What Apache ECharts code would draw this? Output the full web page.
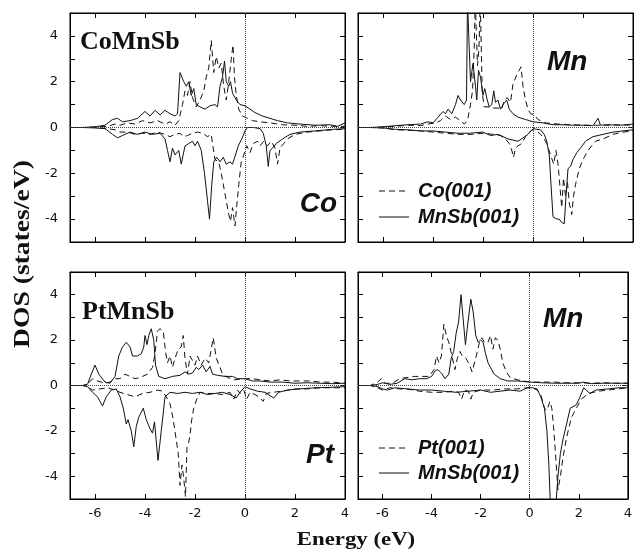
<!DOCTYPE html>
<html>
<head>
<meta charset="utf-8">
<title>DOS CoMnSb / PtMnSb</title>
<script src="https://cdn.jsdelivr.net/npm/echarts@6/dist/echarts.min.js"></script>
<style>
  html, body { margin: 0; padding: 0; background: #fff; }
  #chart { width: 635px; height: 552px; }
</style>
</head>
<body>
<div id="chart"></div>
<script>
// tick positions
var xTicks = [-6, -4, -2, 0, 2, 4];
var yTicks = [-4, -3, -2, -1, 0, 1, 2, 3, 4];
var yLabels = [-4, -2, 0, 2, 4];

// ---- CoMnSb, Co projected (top left) ----
var coUpDash = [[-7,0],[-6.5,0],[-6,0.02],[-5.5,0.05],[-5.2,0.15],[-5,0.1],[-4.7,0.2],[-4.4,0.15],[-4.1,0.3],[-3.8,0.2],[-3.5,0.3],[-3.2,0.15],[-3.0,0.25],[-2.8,0.1],[-2.65,0.3],[-2.5,1.0],[-2.4,1.6],[-2.3,1.4],[-2.2,2.0],[-2.1,1.3],[-1.95,0.9],[-1.8,1.2],[-1.65,1.6],[-1.55,2.2],[-1.45,2.6],[-1.35,3.8],[-1.25,2.4],[-1.15,3.1],[-1.05,2.6],[-0.95,2.8],[-0.85,1.8],[-0.75,1.2],[-0.65,2.0],[-0.55,3.0],[-0.48,3.6],[-0.42,2.2],[-0.35,1.4],[-0.25,0.8],[-0.1,0.5],[0.1,0.4],[0.3,0.3],[0.6,0.25],[1.0,0.2],[1.5,0.12],[2.0,0.1],[2.5,0.05],[3,0.08],[3.5,0.05],[4,0.05]];
var coUpSolid = [[-7,0],[-6.5,0],[-6,0.03],[-5.6,0.1],[-5.3,0.35],[-5.1,0.4],[-4.9,0.25],[-4.6,0.3],[-4.3,0.4],[-4.0,0.7],[-3.8,0.5],[-3.6,0.75],[-3.4,0.55],[-3.2,0.75],[-3.0,0.6],[-2.8,0.5],[-2.7,0.6],[-2.6,2.4],[-2.45,2.0],[-2.35,1.8],[-2.25,2.0],[-2.15,1.4],[-2.05,1.7],[-1.95,1.0],[-1.8,0.9],[-1.6,0.8],[-1.4,0.95],[-1.2,1.0],[-1.1,0.9],[-1.0,1.8],[-0.9,2.2],[-0.82,2.9],[-0.75,2.0],[-0.65,1.8],[-0.58,2.0],[-0.5,1.5],[-0.35,1.2],[-0.2,1.0],[0,0.95],[0.2,0.8],[0.4,0.65],[0.7,0.5],[1.0,0.4],[1.3,0.3],[1.7,0.2],[2.2,0.15],[2.8,0.1],[3.4,0.12],[3.7,0.05],[4,0.2]];
var coDnSolid = [[-7,0],[-6.5,0],[-6,-0.02],[-5.6,-0.05],[-5.3,-0.3],[-5.1,-0.45],[-4.9,-0.35],[-4.6,-0.2],[-4.3,-0.3],[-4.0,-0.2],[-3.7,-0.3],[-3.4,-0.25],[-3.2,-0.5],[-3.1,-1.0],[-3.0,-1.5],[-2.9,-0.9],[-2.8,-1.2],[-2.65,-1.0],[-2.55,-1.6],[-2.4,-0.8],[-2.25,-0.7],[-2.1,-0.6],[-2.0,-0.8],[-1.9,-0.6],[-1.75,-1.0],[-1.62,-2.0],[-1.5,-3.2],[-1.42,-4.0],[-1.33,-2.5],[-1.25,-1.5],[-1.13,-1.3],[-1.0,-1.5],[-0.87,-1.3],[-0.75,-1.6],[-0.6,-1.5],[-0.5,-1.6],[-0.38,-1.2],[-0.27,-0.8],[-0.13,-0.5],[0,-0.15],[0.1,0],[0.35,0],[0.6,-0.05],[0.73,-0.25],[0.85,-0.8],[0.93,-1.7],[1.0,-1.0],[1.1,-0.9],[1.25,-0.7],[1.5,-0.5],[1.8,-0.3],[2.2,-0.2],[2.8,-0.15],[3.5,-0.08],[4,-0.05]];
var coDnDash = [[-7,0],[-6.5,0],[-6,0],[-5.5,-0.05],[-5.2,-0.1],[-5.0,-0.2],[-4.7,-0.2],[-4.4,-0.3],[-4.1,-0.25],[-3.8,-0.3],[-3.5,-0.2],[-3.2,-0.3],[-3.0,-0.4],[-2.8,-0.3],[-2.6,-0.25],[-2.45,-0.4],[-2.3,-0.35],[-2.1,-0.25],[-1.9,-0.2],[-1.7,-0.25],[-1.5,-0.4],[-1.35,-0.3],[-1.3,-0.7],[-1.2,-1.4],[-1.05,-1.5],[-0.95,-2.0],[-0.85,-2.6],[-0.75,-3.2],[-0.65,-3.8],[-0.58,-4.1],[-0.5,-3.5],[-0.45,-3.9],[-0.4,-4.3],[-0.33,-3.4],[-0.25,-2.5],[-0.15,-1.5],[-0.05,-1.2],[0.07,-0.8],[0.2,-1.1],[0.33,-0.7],[0.5,-0.6],[0.6,-0.8],[0.75,-0.6],[0.9,-0.8],[1.05,-0.6],[1.2,-0.9],[1.3,-1.6],[1.4,-0.9],[1.55,-0.7],[1.7,-0.5],[2.0,-0.3],[2.5,-0.2],[3.0,-0.15],[3.5,-0.1],[4,-0.08]];

// ---- CoMnSb, Mn projected (top right) ----
var mnUpDash = [[-7,0],[-6.5,0],[-6,0.02],[-5.5,0.05],[-5,0.1],[-4.5,0.08],[-4.2,0.15],[-3.9,0.2],[-3.7,0.3],[-3.5,0.5],[-3.3,0.35],[-3.1,0.45],[-2.9,0.3],[-2.75,0.15],[-2.62,0.3],[-2.5,1.0],[-2.42,1.6],[-2.35,3.5],[-2.31,5.5],[-2.26,5.5],[-2.22,2.7],[-2.16,3.5],[-2.11,5.5],[-2.07,5.5],[-2.03,1.5],[-1.95,0.9],[-1.8,0.9],[-1.6,0.85],[-1.4,0.85],[-1.25,0.8],[-1.15,1.2],[-1.03,1.3],[-0.9,1.1],[-0.8,1.9],[-0.65,2.3],[-0.55,2.5],[-0.48,2.65],[-0.4,1.8],[-0.3,1.2],[-0.2,0.8],[-0.1,0.6],[0.05,0.55],[0.2,0.35],[0.5,0.2],[1.0,0.15],[1.5,0.12],[2.0,0.1],[2.5,0.1],[3.0,0.1],[3.5,0.12],[4,0.1]];
var mnUpSolid = [[-7,0],[-6.5,0],[-6,0.03],[-5.5,0.08],[-5,0.12],[-4.5,0.15],[-4.2,0.25],[-4.0,0.2],[-3.8,0.45],[-3.6,0.7],[-3.5,0.6],[-3.4,0.8],[-3.25,0.6],[-3.1,1.0],[-3.0,1.4],[-2.9,1.2],[-2.75,1.0],[-2.66,1.2],[-2.62,5.5],[-2.56,5.5],[-2.5,2.0],[-2.4,2.8],[-2.3,1.8],[-2.25,1.2],[-2.18,2.5],[-2.1,2.2],[-2.0,1.4],[-1.93,1.7],[-1.83,1.2],[-1.75,0.9],[-1.65,1.0],[-1.57,1.6],[-1.5,1.1],[-1.4,1.2],[-1.3,0.8],[-1.2,1.0],[-1.05,1.2],[-0.95,0.8],[-0.8,0.6],[-0.6,0.45],[-0.3,0.35],[0,0.25],[0.4,0.2],[0.8,0.12],[1.2,0.12],[1.6,0.1],[2.0,0.1],[2.4,0.08],[2.6,0.4],[2.7,0.1],[3.0,0.12],[3.5,0.1],[4,0.15]];
var mnDnSolid = [[-7,0],[-6.5,0],[-6,-0.02],[-5.5,-0.08],[-5,-0.1],[-4.5,-0.15],[-4,-0.15],[-3.5,-0.2],[-3,-0.25],[-2.5,-0.25],[-2,-0.2],[-1.7,-0.35],[-1.4,-0.3],[-1.2,-0.4],[-1.0,-0.5],[-0.8,-0.55],[-0.6,-0.6],[-0.4,-0.45],[-0.2,-0.3],[0,-0.05],[0.15,-0.08],[0.3,-0.1],[0.45,-0.3],[0.55,-0.6],[0.65,-1.2],[0.72,-2.5],[0.8,-3.9],[0.95,-4.0],[1.05,-4.0],[1.15,-4.15],[1.25,-4.2],[1.32,-3.0],[1.4,-1.8],[1.5,-1.7],[1.6,-1.4],[1.75,-1.1],[1.9,-0.9],[2.1,-0.6],[2.4,-0.4],[2.8,-0.3],[3.2,-0.2],[3.6,-0.15],[4,-0.1]];
var mnDnDash = [[-7,0],[-6.5,0],[-6,-0.02],[-5.5,-0.1],[-5,-0.12],[-4.5,-0.15],[-4,-0.2],[-3.5,-0.25],[-3,-0.3],[-2.5,-0.3],[-2,-0.25],[-1.6,-0.3],[-1.3,-0.35],[-1.1,-0.5],[-0.95,-0.7],[-0.85,-1.0],[-0.78,-1.3],[-0.7,-0.9],[-0.6,-0.8],[-0.45,-0.7],[-0.3,-0.4],[-0.1,-0.15],[0,-0.1],[0.15,-0.15],[0.3,-0.3],[0.45,-0.5],[0.55,-0.7],[0.7,-1.2],[0.83,-1.6],[0.92,-1.0],[1.0,-1.6],[1.08,-2.6],[1.15,-3.5],[1.22,-2.2],[1.3,-3.0],[1.38,-2.4],[1.45,-3.3],[1.55,-3.8],[1.62,-3.0],[1.7,-2.5],[1.85,-1.8],[2.0,-1.4],[2.2,-1.0],[2.5,-0.6],[2.8,-0.5],[3.2,-0.3],[3.6,-0.2],[4,-0.15]];

// ---- PtMnSb, Pt projected (bottom left) ----
var ptUpDash = [[-7,0],[-6.5,0],[-6.3,0.05],[-6.1,0.3],[-5.9,0.2],[-5.6,0.1],[-5.4,0.15],[-5.2,0.3],[-5.0,0.3],[-4.8,0.5],[-4.6,0.4],[-4.4,0.3],[-4.2,0.35],[-3.9,0.5],[-3.7,0.8],[-3.6,1.4],[-3.5,2.4],[-3.4,2.5],[-3.27,2.4],[-3.18,1.5],[-3.1,1.0],[-3.0,1.3],[-2.9,0.8],[-2.8,1.2],[-2.67,1.6],[-2.55,1.7],[-2.47,2.2],[-2.4,1.2],[-2.3,0.5],[-2.2,1.3],[-2.1,1.1],[-2.0,0.9],[-1.9,1.3],[-1.75,0.9],[-1.6,1.2],[-1.45,1.0],[-1.35,1.6],[-1.27,2.1],[-1.15,1.2],[-1.0,0.8],[-0.9,0.5],[-0.7,0.35],[-0.4,0.25],[-0.1,0.3],[0.3,0.3],[0.6,0.25],[1.0,0.2],[1.4,0.25],[1.8,0.2],[2.2,0.2],[2.6,0.2],[3.0,0.15],[3.5,0.15],[4,0.1]];
var ptUpSolid = [[-7,0],[-6.5,0],[-6.3,0.05],[-6.15,0.5],[-6.0,0.9],[-5.85,0.5],[-5.6,0.15],[-5.4,0.1],[-5.2,0.4],[-5.05,1.3],[-4.9,1.7],[-4.75,1.9],[-4.6,1.7],[-4.5,1.3],[-4.3,1.3],[-4.15,1.4],[-4.05,1.7],[-4.0,2.2],[-3.92,1.8],[-3.85,2.2],[-3.75,2.5],[-3.65,2.0],[-3.58,0.9],[-3.45,0.4],[-3.2,0.3],[-2.9,0.4],[-2.6,0.45],[-2.4,0.6],[-2.25,0.5],[-2.1,0.55],[-1.95,0.8],[-1.85,0.7],[-1.7,0.9],[-1.55,0.6],[-1.4,0.85],[-1.3,0.5],[-1.1,0.45],[-0.8,0.4],[-0.5,0.4],[-0.3,0.3],[0,0.3],[0.3,0.2],[0.6,0.2],[1.0,0.15],[1.5,0.15],[2.0,0.1],[2.5,0.12],[3.0,0.1],[3.5,0.08],[4,0.1]];
var ptDnSolid = [[-7,0],[-6.5,0],[-6.3,-0.05],[-6.1,-0.3],[-5.9,-0.5],[-5.7,-0.9],[-5.55,-0.5],[-5.35,-0.2],[-5.15,-0.15],[-5.0,-0.5],[-4.87,-1.0],[-4.75,-1.7],[-4.68,-1.5],[-4.55,-2.0],[-4.45,-2.7],[-4.35,-1.8],[-4.25,-1.4],[-4.07,-1.0],[-3.95,-1.5],[-3.8,-1.9],[-3.7,-2.1],[-3.62,-1.6],[-3.48,-3.3],[-3.35,-2.0],[-3.2,-0.5],[-3.0,-0.3],[-2.7,-0.35],[-2.4,-0.3],[-2.1,-0.35],[-1.8,-0.3],[-1.5,-0.4],[-1.2,-0.35],[-0.9,-0.3],[-0.6,-0.4],[-0.35,-0.55],[-0.2,-0.3],[0,-0.05],[0.2,-0.15],[0.5,-0.25],[0.8,-0.3],[1.0,-0.45],[1.15,-0.55],[1.35,-0.3],[1.7,-0.2],[2.2,-0.15],[2.8,-0.1],[3.4,-0.08],[4,-0.05]];
var ptDnDash = [[-7,0],[-6.5,0],[-6.3,-0.05],[-6.1,-0.2],[-5.8,-0.15],[-5.5,-0.1],[-5.2,-0.2],[-5.0,-0.3],[-4.7,-0.4],[-4.4,-0.5],[-4.1,-0.35],[-3.8,-0.3],[-3.5,-0.2],[-3.3,-0.25],[-3.15,-0.5],[-3.0,-0.8],[-2.87,-1.5],[-2.75,-2.4],[-2.67,-3.0],[-2.6,-4.4],[-2.52,-3.5],[-2.45,-4.1],[-2.38,-4.9],[-2.32,-2.7],[-2.25,-2.5],[-2.2,-2.2],[-2.13,-1.5],[-2.05,-1.0],[-1.93,-0.6],[-1.8,-0.3],[-1.5,-0.35],[-1.2,-0.35],[-0.9,-0.4],[-0.6,-0.3],[-0.45,-0.6],[-0.3,-0.2],[-0.2,-0.35],[-0.05,-0.2],[0.07,-0.6],[0.2,-0.3],[0.4,-0.4],[0.55,-0.5],[0.73,-0.7],[0.85,-0.35],[1.1,-0.3],[1.5,-0.25],[2.0,-0.15],[2.5,-0.15],[3.0,-0.1],[3.5,-0.1],[4,-0.1]];

// ---- PtMnSb, Mn projected (bottom right) ----
var pmUpDash = [[-7,0],[-6.5,0],[-6.2,0.15],[-6.05,0.3],[-5.9,0.1],[-5.6,0.1],[-5.3,0.3],[-5.0,0.35],[-4.7,0.4],[-4.4,0.4],[-4.1,0.4],[-3.9,0.7],[-3.8,1.3],[-3.7,1.0],[-3.6,1.3],[-3.5,2.7],[-3.4,2.2],[-3.3,1.9],[-3.17,1.3],[-3.05,0.7],[-2.95,1.2],[-2.85,1.5],[-2.75,1.3],[-2.6,1.2],[-2.45,0.9],[-2.35,0.6],[-2.2,1.2],[-2.05,1.9],[-1.95,2.1],[-1.85,1.9],[-1.7,1.9],[-1.6,2.2],[-1.5,1.6],[-1.4,2.1],[-1.3,2.0],[-1.2,1.6],[-1.1,1.0],[-0.95,0.6],[-0.8,0.35],[-0.5,0.25],[0,0.15],[0.5,0.15],[1.0,0.15],[1.5,0.12],[2.0,0.12],[2.5,0.1],[3.0,0.12],[3.5,0.1],[4,0.1]];
var pmUpSolid = [[-7,0],[-6.5,0],[-6.2,0.05],[-6.0,0.12],[-5.7,0.05],[-5.4,0.1],[-5.1,0.3],[-4.8,0.25],[-4.5,0.3],[-4.2,0.3],[-4.0,0.4],[-3.85,0.65],[-3.75,0.7],[-3.6,0.55],[-3.45,0.3],[-3.3,0.5],[-3.2,1.2],[-3.1,1.5],[-3.0,2.3],[-2.9,2.8],[-2.8,4.0],[-2.72,3.0],[-2.62,1.8],[-2.55,2.5],[-2.47,3.2],[-2.4,3.8],[-2.3,3.2],[-2.2,2.2],[-2.1,1.9],[-2.0,2.0],[-1.9,1.9],[-1.8,1.4],[-1.7,1.0],[-1.6,0.8],[-1.45,0.5],[-1.2,0.3],[-0.9,0.2],[-0.5,0.2],[0,0.15],[0.5,0.12],[1.0,0.1],[1.5,0.1],[2.0,0.1],[2.2,0.15],[2.5,0.08],[3.0,0.1],[3.5,0.1],[4,0.1]];
var pmDnSolid = [[-7,0],[-6.5,0],[-6.2,-0.05],[-6.0,-0.15],[-5.8,-0.2],[-5.5,-0.1],[-5.0,-0.15],[-4.5,-0.2],[-4.0,-0.2],[-3.5,-0.25],[-3.0,-0.3],[-2.5,-0.25],[-2.0,-0.2],[-1.6,-0.3],[-1.2,-0.25],[-0.8,-0.2],[-0.4,-0.25],[-0.1,-0.1],[0.1,-0.1],[0.3,-0.15],[0.45,-0.5],[0.6,-1.0],[0.7,-2.0],[0.78,-3.5],[0.85,-5.5],[1.05,-5.5],[1.15,-4.0],[1.25,-3.0],[1.35,-2.4],[1.5,-1.7],[1.65,-1.0],[1.9,-0.85],[2.05,-0.5],[2.2,-0.1],[2.3,-0.2],[2.45,-0.35],[2.7,-0.2],[3.2,-0.15],[3.6,-0.1],[4,-0.1]];
var pmDnDash = [[-7,0],[-6.5,0],[-6.2,-0.1],[-6.0,-0.2],[-5.7,-0.1],[-5.3,-0.15],[-5.0,-0.15],[-4.5,-0.25],[-4.0,-0.3],[-3.5,-0.3],[-3.1,-0.25],[-2.9,-0.3],[-2.78,-0.6],[-2.65,-0.2],[-2.5,-0.25],[-2.4,-0.6],[-2.3,-0.3],[-2.0,-0.2],[-1.5,-0.2],[-1.0,-0.15],[-0.5,-0.15],[-0.1,-0.1],[0.1,-0.1],[0.3,-0.2],[0.45,-0.4],[0.6,-1.0],[0.7,-1.1],[0.82,-0.7],[0.9,-1.0],[0.97,-1.8],[1.05,-3.0],[1.15,-4.6],[1.25,-4.0],[1.35,-3.2],[1.5,-2.3],[1.7,-1.4],[1.9,-1.0],[2.1,-0.6],[2.4,-0.35],[2.8,-0.25],[3.2,-0.2],[3.6,-0.15],[4,-0.1]];

var chart = echarts.init(document.getElementById('chart'));

var grids = [
  { left: 70,  top: 13,  width: 275, height: 229 },
  { left: 358, top: 13,  width: 275, height: 229 },
  { left: 70,  top: 272, width: 275, height: 227 },
  { left: 358, top: 272, width: 275, height: 227 }
];

var sansFont = 'Liberation Sans';
var tickFont = 'DejaVu Sans';
var serifFont = 'Liberation Serif';

function xAx(g, pos, showLabel) {
  return {
    type: 'value', gridIndex: g, position: pos, min: -7, max: 4,
    axisLine: { show: true, onZero: false, lineStyle: { color: '#000', width: 1 } },
    axisTick: { show: true, inside: true, length: 5, customValues: xTicks, lineStyle: { color: '#000' } },
    axisLabel: { show: showLabel, customValues: xTicks, margin: 8, color: '#111', fontFamily: tickFont, fontSize: 13 },
    splitLine: { show: false }
  };
}
function yAx(g, pos, showLabel) {
  return {
    type: 'value', gridIndex: g, position: pos, min: -5, max: 5,
    axisLine: { show: true, onZero: false, lineStyle: { color: '#000', width: 1 } },
    axisTick: { show: true, inside: true, length: 5, customValues: yTicks, lineStyle: { color: '#000' } },
    axisLabel: { show: showLabel, customValues: yLabels, margin: 12, color: '#111', fontFamily: tickFont, fontSize: 13 },
    splitLine: { show: false }
  };
}

var xAxes = [], yAxes = [];
for (var g = 0; g < 4; g++) {
  xAxes.push(xAx(g, 'bottom', g >= 2));
  xAxes.push(xAx(g, 'top', false));
  yAxes.push(yAx(g, 'left', g % 2 === 0));
  yAxes.push(yAx(g, 'right', false));
}

var zeroLines = {
  silent: true, symbol: 'none', label: { show: false },
  lineStyle: { type: 'dotted', color: '#444', width: 1 },
  data: [{ xAxis: 0 }, { yAxis: 0 }]
};

function curve(g, data, dashed, withZero) {
  var s = {
    type: 'line', xAxisIndex: g * 2, yAxisIndex: g * 2, data: data,
    showSymbol: false, symbol: 'none', animation: false, silent: true,
    lineStyle: { color: '#111', width: 1, type: dashed ? [6, 4] : 'solid' }
  };
  if (withZero) s.markLine = zeroLines;
  return s;
}

var series = [
  curve(0, coUpSolid, false, true), curve(0, coDnSolid, false), curve(0, coUpDash, true), curve(0, coDnDash, true),
  curve(1, mnUpSolid, false, true), curve(1, mnDnSolid, false), curve(1, mnUpDash, true), curve(1, mnDnDash, true),
  curve(2, ptUpSolid, false, true), curve(2, ptDnSolid, false), curve(2, ptUpDash, true), curve(2, ptDnDash, true),
  curve(3, pmUpSolid, false, true), curve(3, pmDnSolid, false), curve(3, pmUpDash, true), curve(3, pmDnDash, true)
];

function label(txt, x, y, font, align) {
  return { type: 'text', x: x, y: y, silent: true,
    style: { text: txt, font: font, fill: '#111', align: align || 'left', verticalAlign: 'middle' } };
}
function sample(x, y, dashed) {
  return { type: 'line', silent: true, shape: { x1: x, y1: y, x2: x + 30, y2: y },
    style: { stroke: '#111', lineWidth: 1, lineDash: dashed ? [6, 4] : null } };
}

var big = 'bold 26px "' + serifFont + '"';
var site = 'italic bold 28px "' + sansFont + '"';
var leg = 'italic bold 20px "' + sansFont + '"';

// axis titles: the original serif is wider than Liberation Serif, so stretch a bit
var xTitle = label('Energy (eV)', 356, 540, 'bold 19px "' + serifFont + '"', 'center');
xTitle.scaleX = 1.2;
var yTitle = label('DOS (states/eV)', 23, 254, 'bold 23px "' + serifFont + '"', 'center');
yTitle.rotation = Math.PI / 2;
yTitle.scaleX = 1.2;

var graphics = [
  label('CoMnSb', 80, 42, big),
  label('PtMnSb', 82, 312, big),
  label('Co', 337, 204, site, 'right'),
  label('Mn', 547, 62, site),
  label('Pt', 334, 455, site, 'right'),
  label('Mn', 543, 319, site),
  sample(379, 191, true), label('Co(001)', 418, 191, leg),
  sample(379, 217, false), label('MnSb(001)', 418, 217, leg),
  sample(379, 448, true), label('Pt(001)', 418, 448, leg),
  sample(379, 473, false), label('MnSb(001)', 418, 473, leg),
  xTitle,
  yTitle
];

chart.setOption({
  backgroundColor: '#fff',
  animation: false,
  grid: grids.map(function (r) {
    return { left: r.left, top: r.top, width: r.width, height: r.height, show: true, borderColor: '#000', borderWidth: 1, containLabel: false };
  }),
  xAxis: xAxes,
  yAxis: yAxes,
  series: series,
  graphic: graphics
});
</script>
</body>
</html>
